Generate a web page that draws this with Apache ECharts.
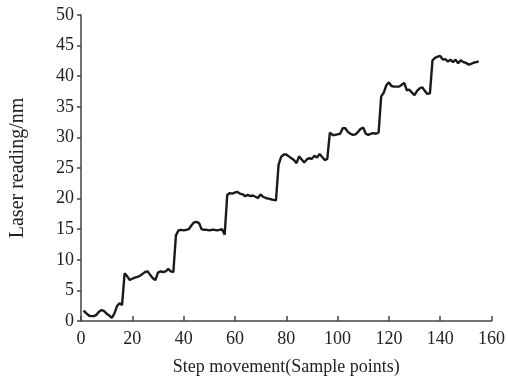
<!DOCTYPE html>
<html>
<head>
<meta charset="utf-8">
<script src="https://cdn.jsdelivr.net/npm/echarts@6/dist/echarts.min.js"></script>
<style>html,body{margin:0;padding:0;background:#fff}#c{width:508px;height:385px}</style>
</head>
<body>
<div id="c"></div>
<script>
const samplePoints = [];
for (let i = 1; i <= 155; i++) samplePoints.push(i);
const laserReading = [
  1.7,1.3,0.9,0.8,0.8,1.0,1.5,1.8,1.6,1.2,0.9,0.5,1.2,2.4,2.9,2.6,
  7.8,7.3,6.7,6.9,7.1,7.2,7.4,7.7,8.0,8.1,7.5,7.0,6.7,7.9,8.1,8.0,8.1,8.5,8.1,8.0,
  14.0,14.8,14.9,14.8,14.9,15.0,15.6,16.1,16.2,16.0,15.0,14.9,14.9,14.8,14.9,14.9,14.8,14.9,15.0,14.1,
  20.6,20.9,20.8,21.0,21.1,20.8,20.7,20.4,20.6,20.4,20.5,20.3,20.1,20.7,20.3,20.1,20.0,19.9,19.8,19.7,
  25.5,26.8,27.2,27.2,26.9,26.6,26.3,25.8,26.9,26.4,25.9,26.4,26.6,26.5,27.0,26.7,27.3,26.8,26.3,26.5,
  30.8,30.4,30.4,30.5,30.6,31.5,31.5,30.9,30.6,30.4,30.5,30.9,31.4,31.6,30.6,30.4,30.6,30.7,30.6,30.8,
  36.7,37.3,38.5,39.0,38.4,38.3,38.3,38.3,38.6,38.9,37.7,37.8,37.3,36.9,37.6,38.0,38.2,37.6,37.1,37.2,
  42.6,43.0,43.2,43.3,42.7,42.8,42.4,42.7,42.3,42.7,42.1,42.6,42.3,42.2,41.9,42.0,42.2,42.3,42.4
];
const xTicks = [0,20,40,60,80,100,120,140,160];
const yTicks = [0,5,10,15,20,25,30,35,40,45,50];

const data = samplePoints.map((s, i) => [s, laserReading[i]]);
const font = 'Liberation Serif';
const chart = echarts.init(document.getElementById('c'), null, {renderer: 'canvas'});
chart.setOption({
  animation: false,
  backgroundColor: '#fff',
  grid: {left: 81, right: 16, top: 15, bottom: 64, containLabel: false},
  xAxis: {
    type: 'value', min: xTicks[0], max: xTicks[xTicks.length-1], interval: 20,
    name: 'Step movement(Sample points)', nameLocation: 'middle', nameGap: 37,
    nameTextStyle: {fontFamily: font, fontSize: 18, color: '#222'},
    axisLine: {show: true, lineStyle: {color: '#444', width: 1.5}},
    axisTick: {show: true, inside: true, length: 5, lineStyle: {color: '#444', width: 1.5}},
    axisLabel: {fontFamily: font, fontSize: 18, color: '#222', margin: 9},
    splitLine: {show: false}
  },
  yAxis: {
    type: 'value', min: yTicks[0], max: yTicks[yTicks.length-1], interval: 5,
    name: 'Laser reading/nm', nameLocation: 'middle', nameGap: 53, nameRotate: 90,
    nameTextStyle: {fontFamily: font, fontSize: 20, color: '#222'},
    axisLine: {show: true, lineStyle: {color: '#444', width: 1.5}},
    axisTick: {show: true, inside: false, length: 4, lineStyle: {color: '#444', width: 1.5}},
    axisLabel: {fontFamily: font, fontSize: 18, color: '#222', margin: 7},
    splitLine: {show: false}
  },
  series: [{
    type: 'line', data: data, showSymbol: false, smooth: false,
    lineStyle: {color: '#1a1a1a', width: 2.4}
  }]
});
</script>
</body>
</html>
